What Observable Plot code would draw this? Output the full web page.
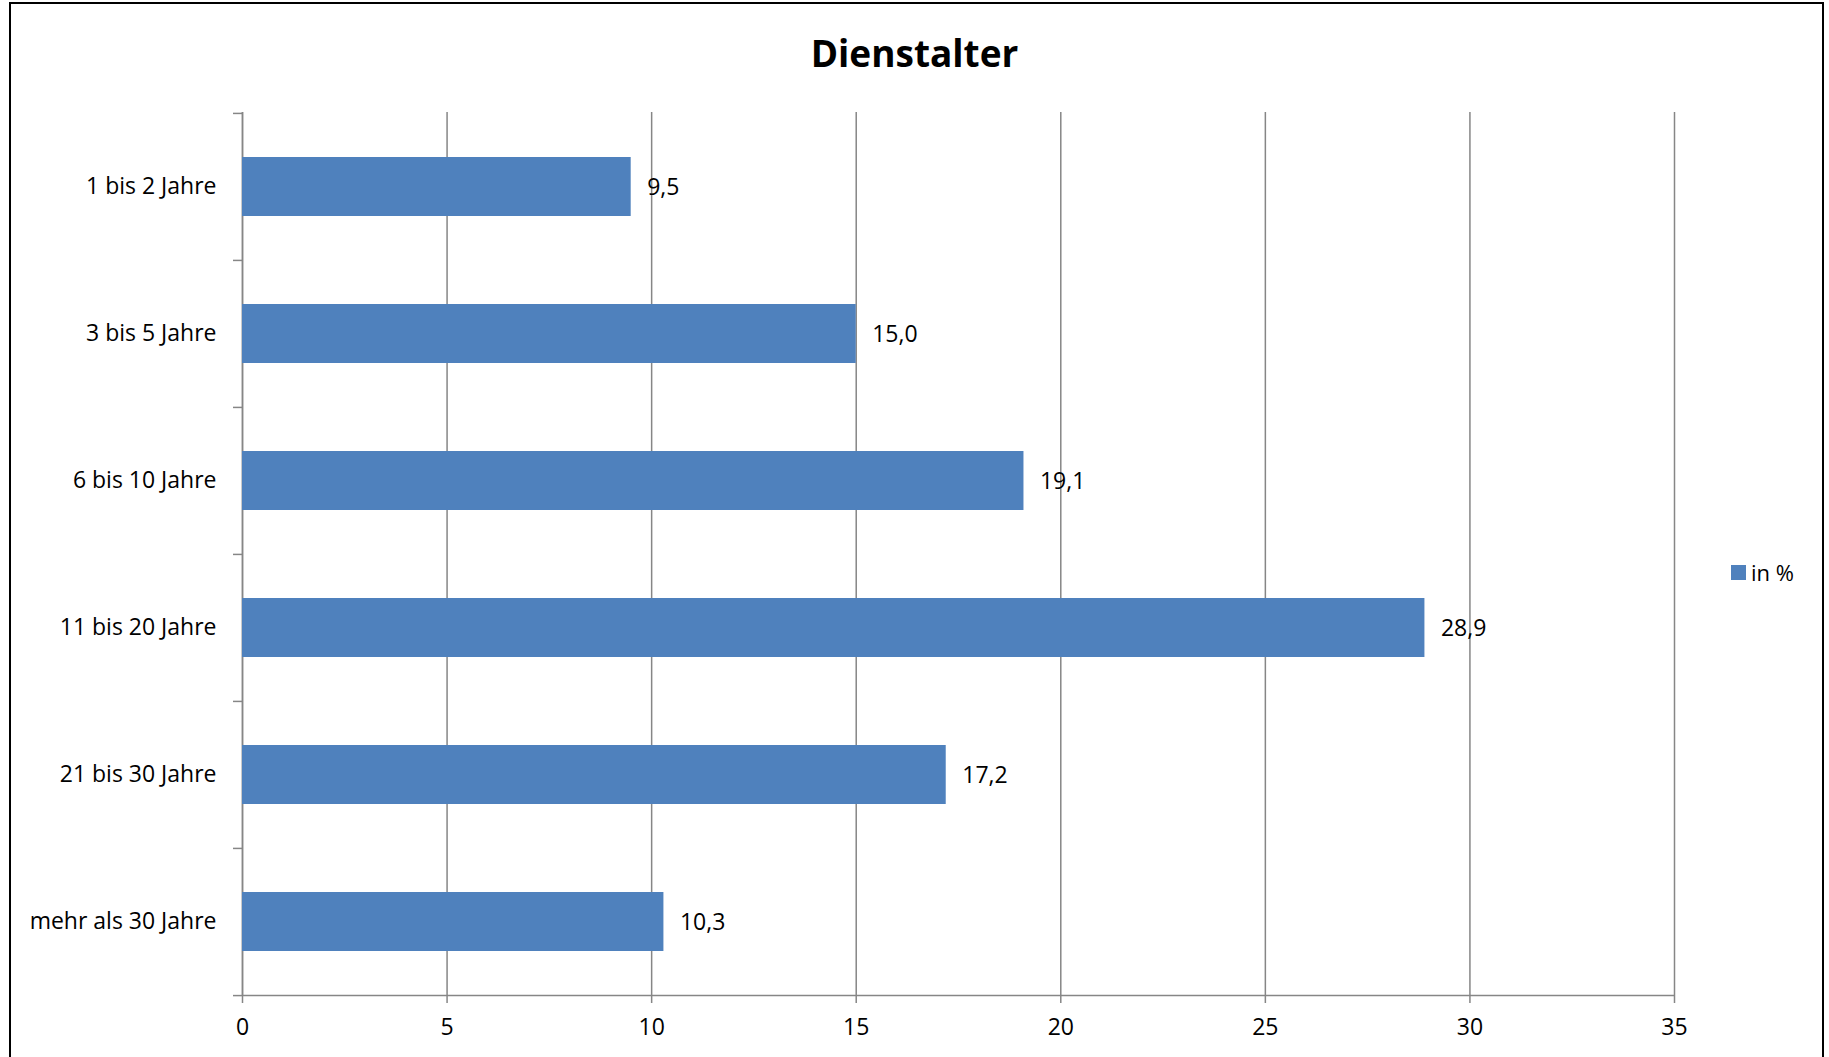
<!DOCTYPE html>
<html>
<head>
<meta charset="utf-8">
<script src="https://cdn.jsdelivr.net/npm/d3@7"></script>
<script src="https://cdn.jsdelivr.net/npm/@observablehq/plot@0.6"></script>
<style>
  html, body { margin: 0; padding: 0; background: #fff; overflow: hidden; }
  #wrap { position: relative; width: 1829px; height: 1057px; font-family: "Open Sans", Lato, sans-serif; }
  #frame { position: absolute; left: 9px; top: 2px; width: 1815px; height: 1080px; border: 2px solid #000; box-sizing: border-box; }
  #title { position: absolute; left: 0; width: 1829px; top: 29px; text-align: center; font-size: 37px; font-weight: bold; color: #000; line-height: 48px; }
  #legend { position: absolute; left: 1731px; top: 557px; font-size: 22px; color: #000; display: flex; align-items: center; }
  #legend .sw { width: 15px; height: 15px; background: #4F81BD; margin-right: 5px; }
  #chart { position: absolute; left: 0; top: 0; }
</style>
</head>
<body>
<div id="wrap">
  <div id="frame"></div>
  <div id="title">Dienstalter</div>
  <div id="chart"></div>
  <div id="legend"><div class="sw"></div><span>in %</span></div>
</div>
<script>
const categories = ["1 bis 2 Jahre", "3 bis 5 Jahre", "6 bis 10 Jahre", "11 bis 20 Jahre", "21 bis 30 Jahre", "mehr als 30 Jahre"];
const values = [9.5, 15.0, 19.1, 28.9, 17.2, 10.3];
const xTicks = [0, 5, 10, 15, 20, 25, 30, 35];
const seriesName = "in %";

const data = categories.map((c, i) => ({category: c, value: values[i]}));

const W = 1829, H = 1057;
const mL = 242, mR = 155, mT = 112, mB = 62;
const step = (H - mT - mB) / categories.length;
const gray = "#868686";
const fs = 23;
const fmt = v => v.toFixed(1).replace(".", ",");

const chart = Plot.plot({
  width: W,
  height: H,
  marginLeft: mL,
  marginRight: mR,
  marginTop: mT,
  marginBottom: mB,
  style: {fontFamily: "'Open Sans', Lato, sans-serif", fontSize: fs + "px", color: "#000", background: "transparent"},
  x: {domain: [0, 35]},
  y: {domain: categories, paddingInner: 0.6, paddingOuter: 0.3},
  marks: [
    Plot.gridX(xTicks, {stroke: gray, strokeOpacity: 1, strokeWidth: 1.5}),
    Plot.ruleX([0], {stroke: gray, strokeWidth: 1.5}),
    Plot.ruleY([categories[categories.length - 1]], {dy: step / 2, stroke: gray, strokeWidth: 1.5}),
    Plot.barX(data, {x: "value", y: "category", fill: "#4F81BD"}),
    Plot.text(data, {x: "value", y: "category", text: d => fmt(d.value), textAnchor: "start", dx: 16, dy: 1, fill: "#000", fontSize: fs}),
    Plot.axisX({ticks: xTicks, tickSize: 8, tickPadding: 15, stroke: gray, fill: "#000", strokeWidth: 1.5, fontSize: fs, label: null}),
    Plot.axisY({tickSize: 0, tickPadding: 26, fill: "#000", fontSize: fs, label: null}),
    Plot.axisY({tickSize: 9, text: null, dy: -step / 2, stroke: gray, strokeWidth: 1.5, label: null}),
    Plot.axisY({ticks: [categories[categories.length - 1]], tickSize: 9, text: null, dy: step / 2, stroke: gray, strokeWidth: 1.5, label: null})
  ]
});
document.getElementById("chart").appendChild(chart);
</script>
</body>
</html>
